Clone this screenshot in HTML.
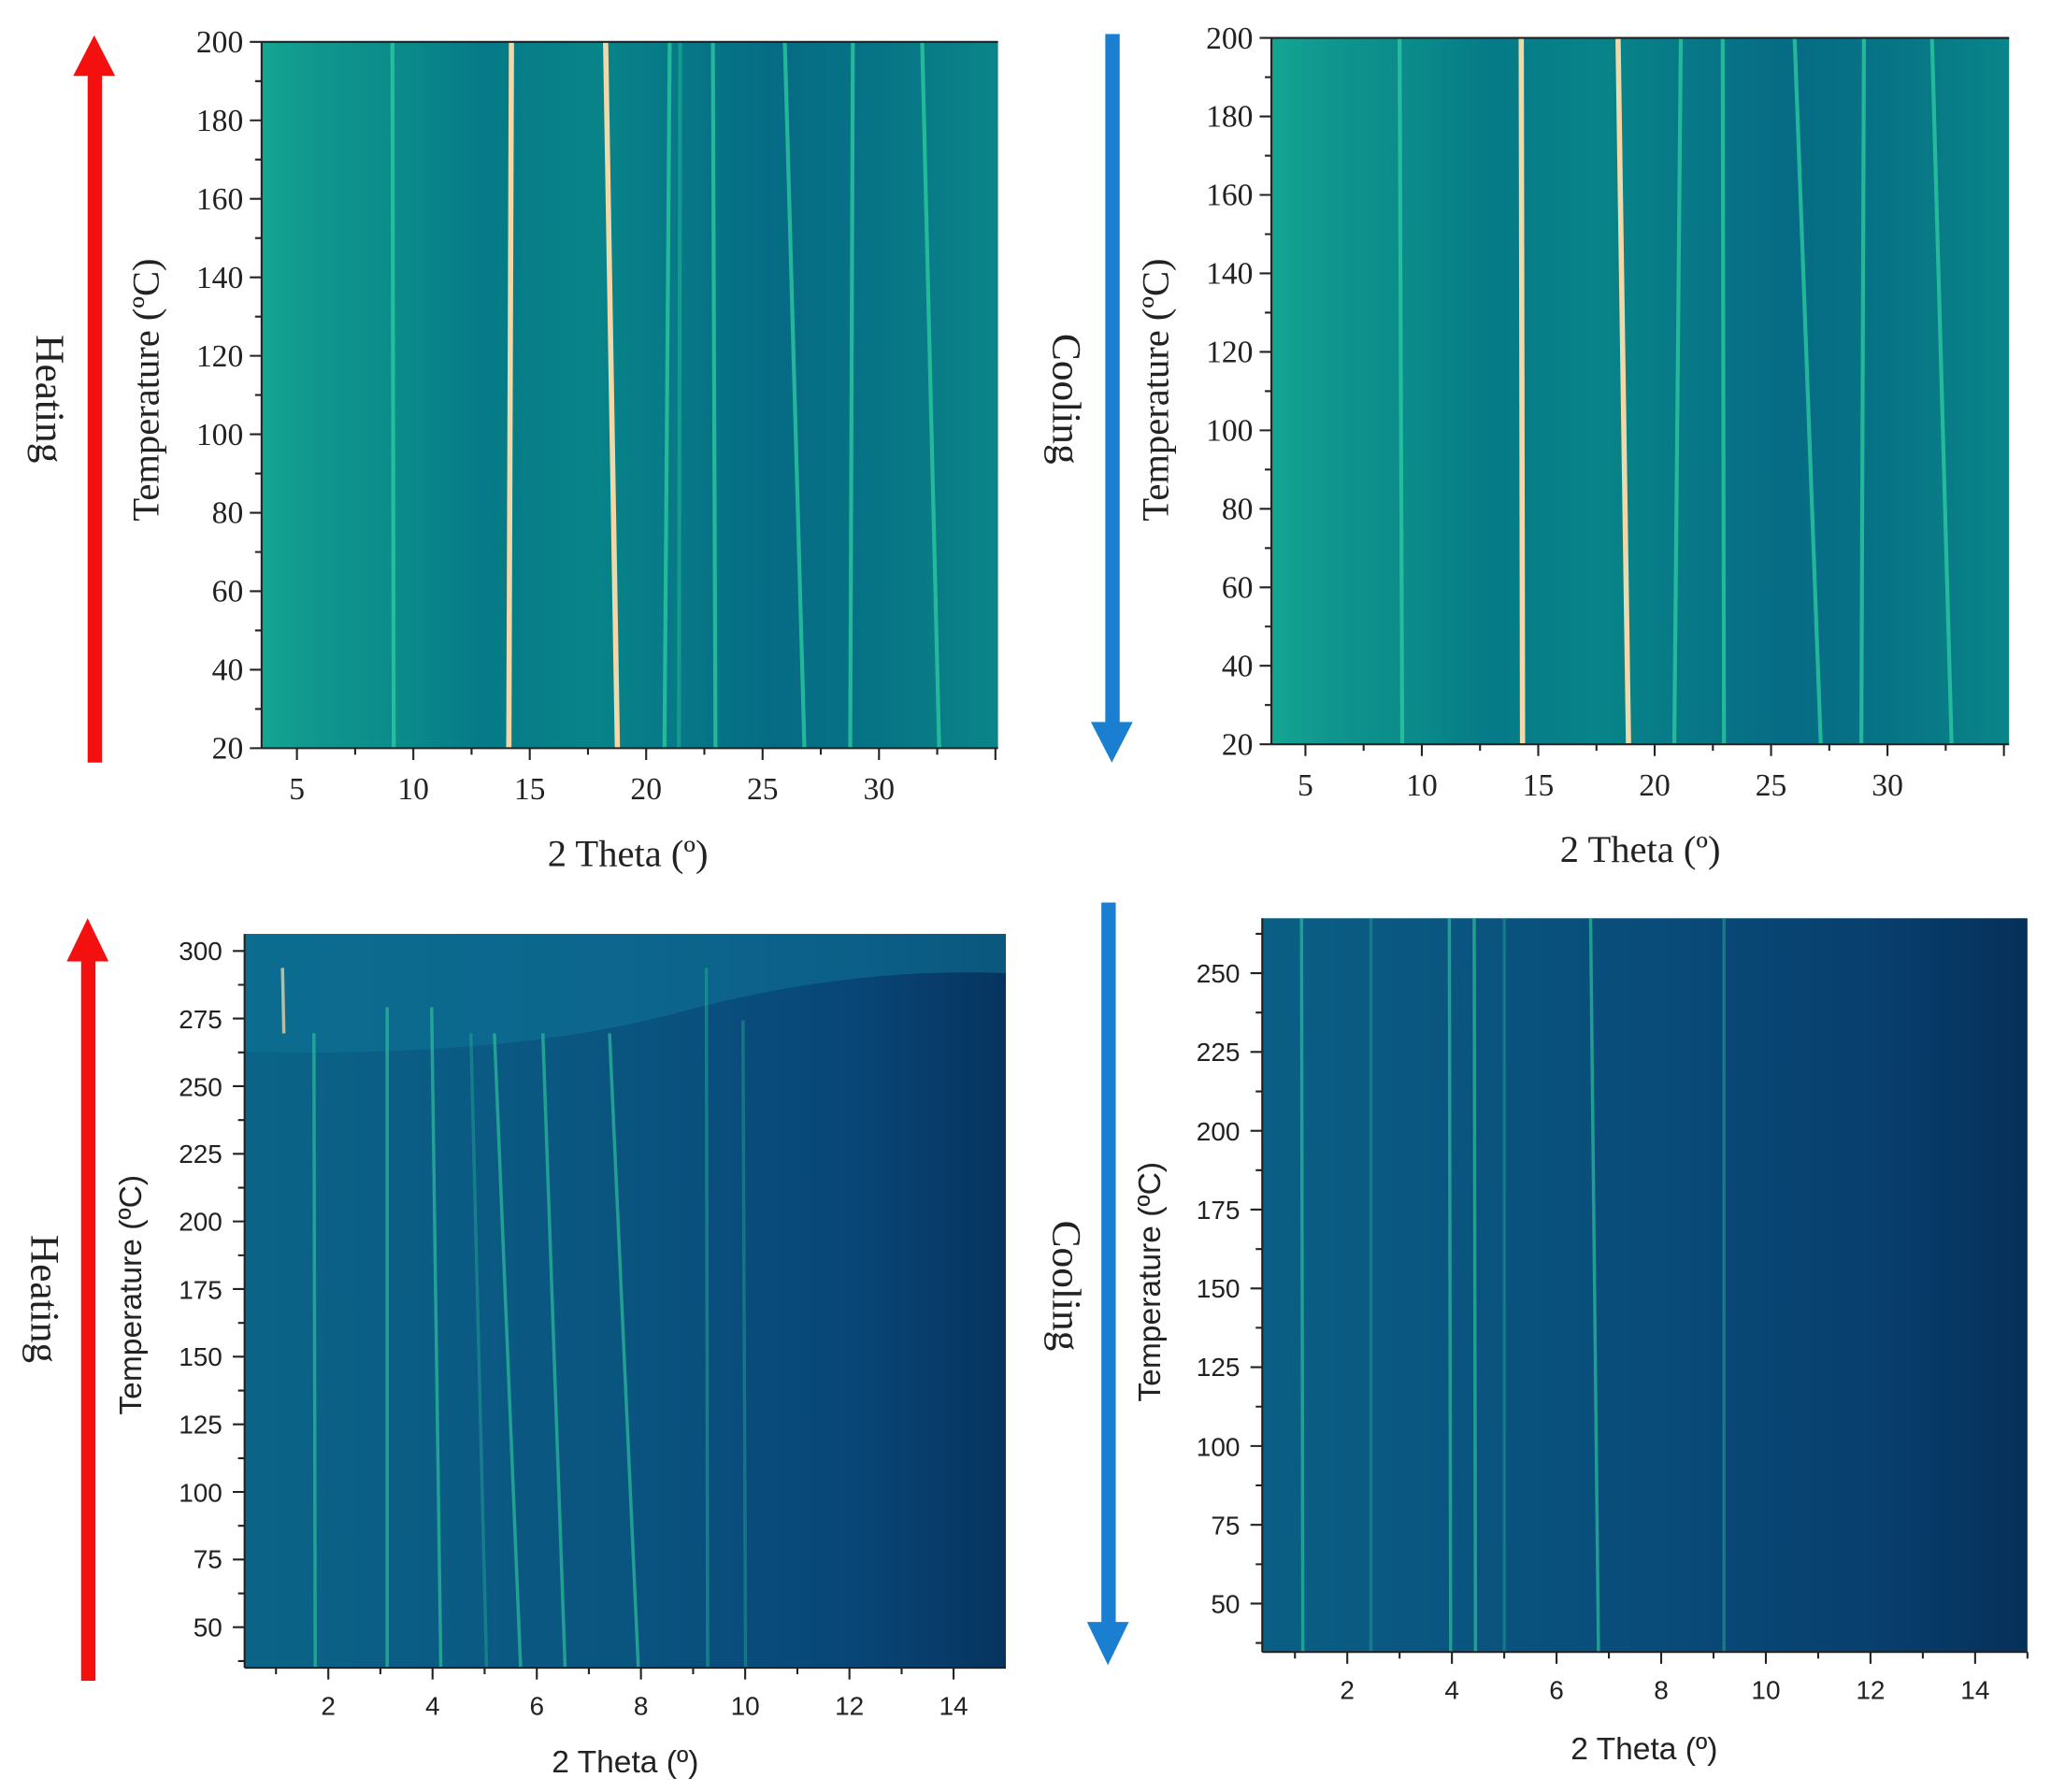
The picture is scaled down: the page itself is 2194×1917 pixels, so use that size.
<!DOCTYPE html>
<html><head><meta charset="utf-8"><style>
html,body{margin:0;padding:0;background:#fff;}
svg{display:block}
.s{font-family:"Liberation Serif",serif;fill:#222}
.a{font-family:"Liberation Sans",sans-serif;fill:#222}
</style></head><body>
<svg width="2194" height="1917" viewBox="0 0 1568 1370" xmlns="http://www.w3.org/2000/svg">
<defs>
<linearGradient id="gt" x1="0" x2="1" y1="0" y2="0">
<stop offset="0" stop-color="#14a692"/><stop offset="0.08" stop-color="#10958e"/><stop offset="0.2" stop-color="#0a8a8a"/><stop offset="0.3" stop-color="#067a88"/><stop offset="0.45" stop-color="#088489"/><stop offset="0.7" stop-color="#066b85"/><stop offset="0.85" stop-color="#077586"/><stop offset="1" stop-color="#0a8588"/>
</linearGradient>
<linearGradient id="gb" x1="0" x2="1" y1="0" y2="0">
<stop offset="0" stop-color="#0b6488"/><stop offset="0.5" stop-color="#0a5480"/><stop offset="0.8" stop-color="#084677"/><stop offset="1" stop-color="#07345f"/>
</linearGradient>
<linearGradient id="gr" x1="0" x2="1" y1="0" y2="0">
<stop offset="0" stop-color="#0a5f85"/><stop offset="0.5" stop-color="#094c7a"/><stop offset="0.8" stop-color="#083f6e"/><stop offset="1" stop-color="#06305a"/>
</linearGradient>
</defs>

<!-- TOP LEFT -->
<rect x="200" y="32" width="563" height="540" fill="url(#gt)"/>
<g fill="none">
<g stroke="#2cc9a0" stroke-width="3" opacity="0.8">
<line x1="300" y1="32" x2="301" y2="572"/>
<line x1="512" y1="32" x2="508" y2="572"/>
<line x1="545" y1="32" x2="547" y2="572"/>
<line x1="600" y1="32" x2="615" y2="572"/>
<line x1="652" y1="32" x2="650" y2="572"/>
<line x1="705" y1="32" x2="718" y2="572"/>
<line x1="520" y1="32" x2="519" y2="572" opacity="0.5"/>
</g>
<line x1="391" y1="32" x2="389" y2="572" stroke="#f0d8a8" stroke-width="4"/>
<line x1="463" y1="32" x2="472" y2="572" stroke="#f0d8a8" stroke-width="4"/>
</g>
<g stroke="#222" stroke-width="1.5" fill="none">
<line x1="200" y1="32" x2="763" y2="32"/>
<line x1="200" y1="32" x2="200" y2="572"/>
<line x1="200" y1="572" x2="763" y2="572"/>
<path d="M200 32h-9M200 92h-9M200 152h-9M200 212h-9M200 272h-9M200 332h-9M200 392h-9M200 452h-9M200 512h-9M200 572h-9M200 62h-5M200 122h-5M200 182h-5M200 242h-5M200 302h-5M200 362h-5M200 422h-5M200 482h-5M200 542h-5"/>
<path d="M227 572v9M316 572v9M405 572v9M494 572v9M583 572v9M672 572v9M271.5 572v5M360.5 572v5M449.5 572v5M538.5 572v5M627.5 572v5M716.5 572v5M761 572v9"/>
</g>
<g class="s" text-anchor="end" style="font-size:24px">
<text x="186" y="40">200</text><text x="186" y="100">180</text><text x="186" y="160">160</text><text x="186" y="220">140</text><text x="186" y="280">120</text><text x="186" y="340">100</text><text x="186" y="400">80</text><text x="186" y="460">60</text><text x="186" y="520">40</text><text x="186" y="580">20</text>
</g>
<g class="s" text-anchor="middle" style="font-size:24px">
<text x="227" y="611">5</text><text x="316" y="611">10</text><text x="405" y="611">15</text><text x="494" y="611">20</text><text x="583" y="611">25</text><text x="672" y="611">30</text>
<text x="480" y="662" style="font-size:29px">2 Theta (º)</text>
<text transform="translate(121,298) rotate(-90)" style="font-size:29px">Temperature (ºC)</text>
<text transform="translate(28,305) rotate(90)" style="font-size:31px">Heating</text>
</g>
<rect x="67" y="55" width="11" height="528" fill="#f51010"/>
<polygon points="56,58 72,27 88,58" fill="#f51010"/>

<!-- TOP RIGHT -->
<rect x="972" y="29" width="564" height="540" fill="url(#gt)"/>
<g fill="none">
<g stroke="#2cc9a0" stroke-width="3" opacity="0.8">
<line x1="1070" y1="29" x2="1072" y2="569"/>
<line x1="1285" y1="29" x2="1280" y2="569"/>
<line x1="1317" y1="29" x2="1318" y2="569"/>
<line x1="1372" y1="29" x2="1392" y2="569"/>
<line x1="1425" y1="29" x2="1423" y2="569"/>
<line x1="1477" y1="29" x2="1492" y2="569"/>
</g>
<line x1="1163" y1="29" x2="1164" y2="569" stroke="#f0d8a8" stroke-width="4"/>
<line x1="1237" y1="29" x2="1245" y2="569" stroke="#f0d8a8" stroke-width="4"/>
</g>
<g stroke="#222" stroke-width="1.5" fill="none">
<line x1="972" y1="29" x2="1536" y2="29"/>
<line x1="972" y1="29" x2="972" y2="569"/>
<line x1="972" y1="569" x2="1536" y2="569"/>
<path d="M972 29h-9M972 89h-9M972 149h-9M972 209h-9M972 269h-9M972 329h-9M972 389h-9M972 449h-9M972 509h-9M972 569h-9M972 59h-5M972 119h-5M972 179h-5M972 239h-5M972 299h-5M972 359h-5M972 419h-5M972 479h-5M972 539h-5"/>
<path d="M998 569v9M1087 569v9M1176 569v9M1265 569v9M1354 569v9M1443 569v9M1042.5 569v5M1131.5 569v5M1220.5 569v5M1309.5 569v5M1398.5 569v5M1487.5 569v5M1532 569v9"/>
</g>
<g class="s" text-anchor="end" style="font-size:24px">
<text x="958" y="37">200</text><text x="958" y="97">180</text><text x="958" y="157">160</text><text x="958" y="217">140</text><text x="958" y="277">120</text><text x="958" y="337">100</text><text x="958" y="397">80</text><text x="958" y="457">60</text><text x="958" y="517">40</text><text x="958" y="577">20</text>
</g>
<g class="s" text-anchor="middle" style="font-size:24px">
<text x="998" y="608">5</text><text x="1087" y="608">10</text><text x="1176" y="608">15</text><text x="1265" y="608">20</text><text x="1354" y="608">25</text><text x="1443" y="608">30</text>
<text x="1254" y="659" style="font-size:29px">2 Theta (º)</text>
<text transform="translate(893,298) rotate(-90)" style="font-size:29px">Temperature (ºC)</text>
<text transform="translate(805,305) rotate(90)" style="font-size:31px">Cooling</text>
</g>
<rect x="845" y="26" width="11" height="530" fill="#1a7fd0"/>
<polygon points="834,552 850,583 866,552" fill="#1a7fd0"/>

<!-- BOTTOM LEFT -->
<rect x="187" y="714" width="582" height="561" fill="url(#gb)"/>
<path d="M187 714h582v30q-120 -5 -250 30t-332 30z" fill="#0f7498" opacity="0.55"/>
<g fill="none" stroke="#2ab89a" stroke-width="2.5" opacity="0.75">
<line x1="240" y1="790" x2="241" y2="1275"/>
<line x1="296" y1="770" x2="296" y2="1275"/>
<line x1="330" y1="770" x2="337" y2="1275"/>
<line x1="378" y1="790" x2="398" y2="1275"/>
<line x1="415" y1="790" x2="432" y2="1275"/>
<line x1="466" y1="790" x2="488" y2="1275"/>
<line x1="540" y1="740" x2="541" y2="1275" opacity="0.6"/>
<line x1="568" y1="780" x2="570" y2="1275" opacity="0.5"/>
<line x1="360" y1="790" x2="372" y2="1275" opacity="0.5"/>
<line x1="216" y1="740" x2="217" y2="790" stroke="#f0d8a8"/>
</g>
<g stroke="#222" stroke-width="1.5" fill="none">
<line x1="187" y1="714" x2="187" y2="1275"/>
<line x1="187" y1="1275" x2="769" y2="1275"/>
<path d="M187 727h-9M187 778.7h-9M187 830.4h-9M187 882.1h-9M187 933.8h-9M187 985.5h-9M187 1037.2h-9M187 1088.9h-9M187 1140.6h-9M187 1192.3h-9M187 1244h-9M187 752.9h-5M187 804.6h-5M187 856.3h-5M187 908h-5M187 959.7h-5M187 1011.4h-5M187 1063.1h-5M187 1114.8h-5M187 1166.5h-5M187 1218.2h-5M187 1269.9h-5"/>
<path d="M211 1275v5M251 1275v9M290.8 1275v5M330.7 1275v9M370.5 1275v5M410.4 1275v9M450.2 1275v5M490 1275v9M529.9 1275v5M569.7 1275v9M609.6 1275v5M649.4 1275v9M689.3 1275v5M729 1275v9"/>
</g>
<g class="a" text-anchor="end" style="font-size:20px">
<text x="170" y="734">300</text><text x="170" y="786">275</text><text x="170" y="838">250</text><text x="170" y="889">225</text><text x="170" y="941">200</text><text x="170" y="993">175</text><text x="170" y="1044">150</text><text x="170" y="1096">125</text><text x="170" y="1148">100</text><text x="170" y="1199">75</text><text x="170" y="1251">50</text>
</g>
<g class="a" text-anchor="middle" style="font-size:20px">
<text x="251" y="1311">2</text><text x="330.7" y="1311">4</text><text x="410.4" y="1311">6</text><text x="490" y="1311">8</text><text x="569.7" y="1311">10</text><text x="649.4" y="1311">12</text><text x="729" y="1311">14</text>
<text x="478" y="1355" style="font-size:24px">2 Theta (º)</text>
<text transform="translate(108,990) rotate(-90)" style="font-size:24px">Temperature (ºC)</text>
</g>
<text class="s" text-anchor="middle" transform="translate(24,993) rotate(90)" style="font-size:31px">Heating</text>
<rect x="62" y="733" width="11" height="552" fill="#f51010"/>
<polygon points="51,735 67,702 83,735" fill="#f51010"/>

<!-- BOTTOM RIGHT -->
<rect x="965" y="702" width="585" height="561" fill="url(#gr)"/>
<g fill="none" stroke="#2ab89a" stroke-width="2.5" opacity="0.75">
<line x1="995" y1="702" x2="996" y2="1263"/>
<line x1="1108" y1="702" x2="1109" y2="1263"/>
<line x1="1127" y1="702" x2="1128" y2="1263"/>
<line x1="1216" y1="702" x2="1222" y2="1263"/>
<line x1="1318" y1="702" x2="1318" y2="1263" opacity="0.6"/>
<line x1="1048" y1="702" x2="1048" y2="1263" opacity="0.5"/>
<line x1="1150" y1="702" x2="1150" y2="1263" opacity="0.5"/>
</g>
<g stroke="#222" stroke-width="1.5" fill="none">
<line x1="965" y1="702" x2="965" y2="1263"/>
<line x1="965" y1="1263" x2="1550" y2="1263"/>
<path d="M965 744h-9M965 804.25h-9M965 864.5h-9M965 924.75h-9M965 985h-9M965 1045.25h-9M965 1105.5h-9M965 1165.75h-9M965 1226h-9M965 713.9h-5M965 774.1h-5M965 834.4h-5M965 894.6h-5M965 954.9h-5M965 1015.1h-5M965 1075.4h-5M965 1135.6h-5M965 1195.9h-5M965 1256.1h-5"/>
<path d="M990 1263v5M1030 1263v9M1070 1263v5M1110 1263v9M1150 1263v5M1190 1263v9M1230 1263v5M1270 1263v9M1310 1263v5M1350 1263v9M1390 1263v5M1430 1263v9M1470 1263v5M1510 1263v9M1550 1263v5"/>
</g>
<g class="a" text-anchor="end" style="font-size:20px">
<text x="948" y="751">250</text><text x="948" y="811">225</text><text x="948" y="872">200</text><text x="948" y="932">175</text><text x="948" y="992">150</text><text x="948" y="1052">125</text><text x="948" y="1113">100</text><text x="948" y="1173">75</text><text x="948" y="1233">50</text>
</g>
<g class="a" text-anchor="middle" style="font-size:20px">
<text x="1030" y="1299">2</text><text x="1110" y="1299">4</text><text x="1190" y="1299">6</text><text x="1270" y="1299">8</text><text x="1350" y="1299">10</text><text x="1430" y="1299">12</text><text x="1510" y="1299">14</text>
<text x="1257" y="1345" style="font-size:24px">2 Theta (º)</text>
<text transform="translate(887,980) rotate(-90)" style="font-size:24px">Temperature (ºC)</text>
</g>
<text class="s" text-anchor="middle" transform="translate(805,983) rotate(90)" style="font-size:31px">Cooling</text>
<rect x="842" y="690" width="11" height="552" fill="#1a7fd0"/>
<polygon points="831,1240 847,1273 863,1240" fill="#1a7fd0"/>
</svg>
</body></html>
